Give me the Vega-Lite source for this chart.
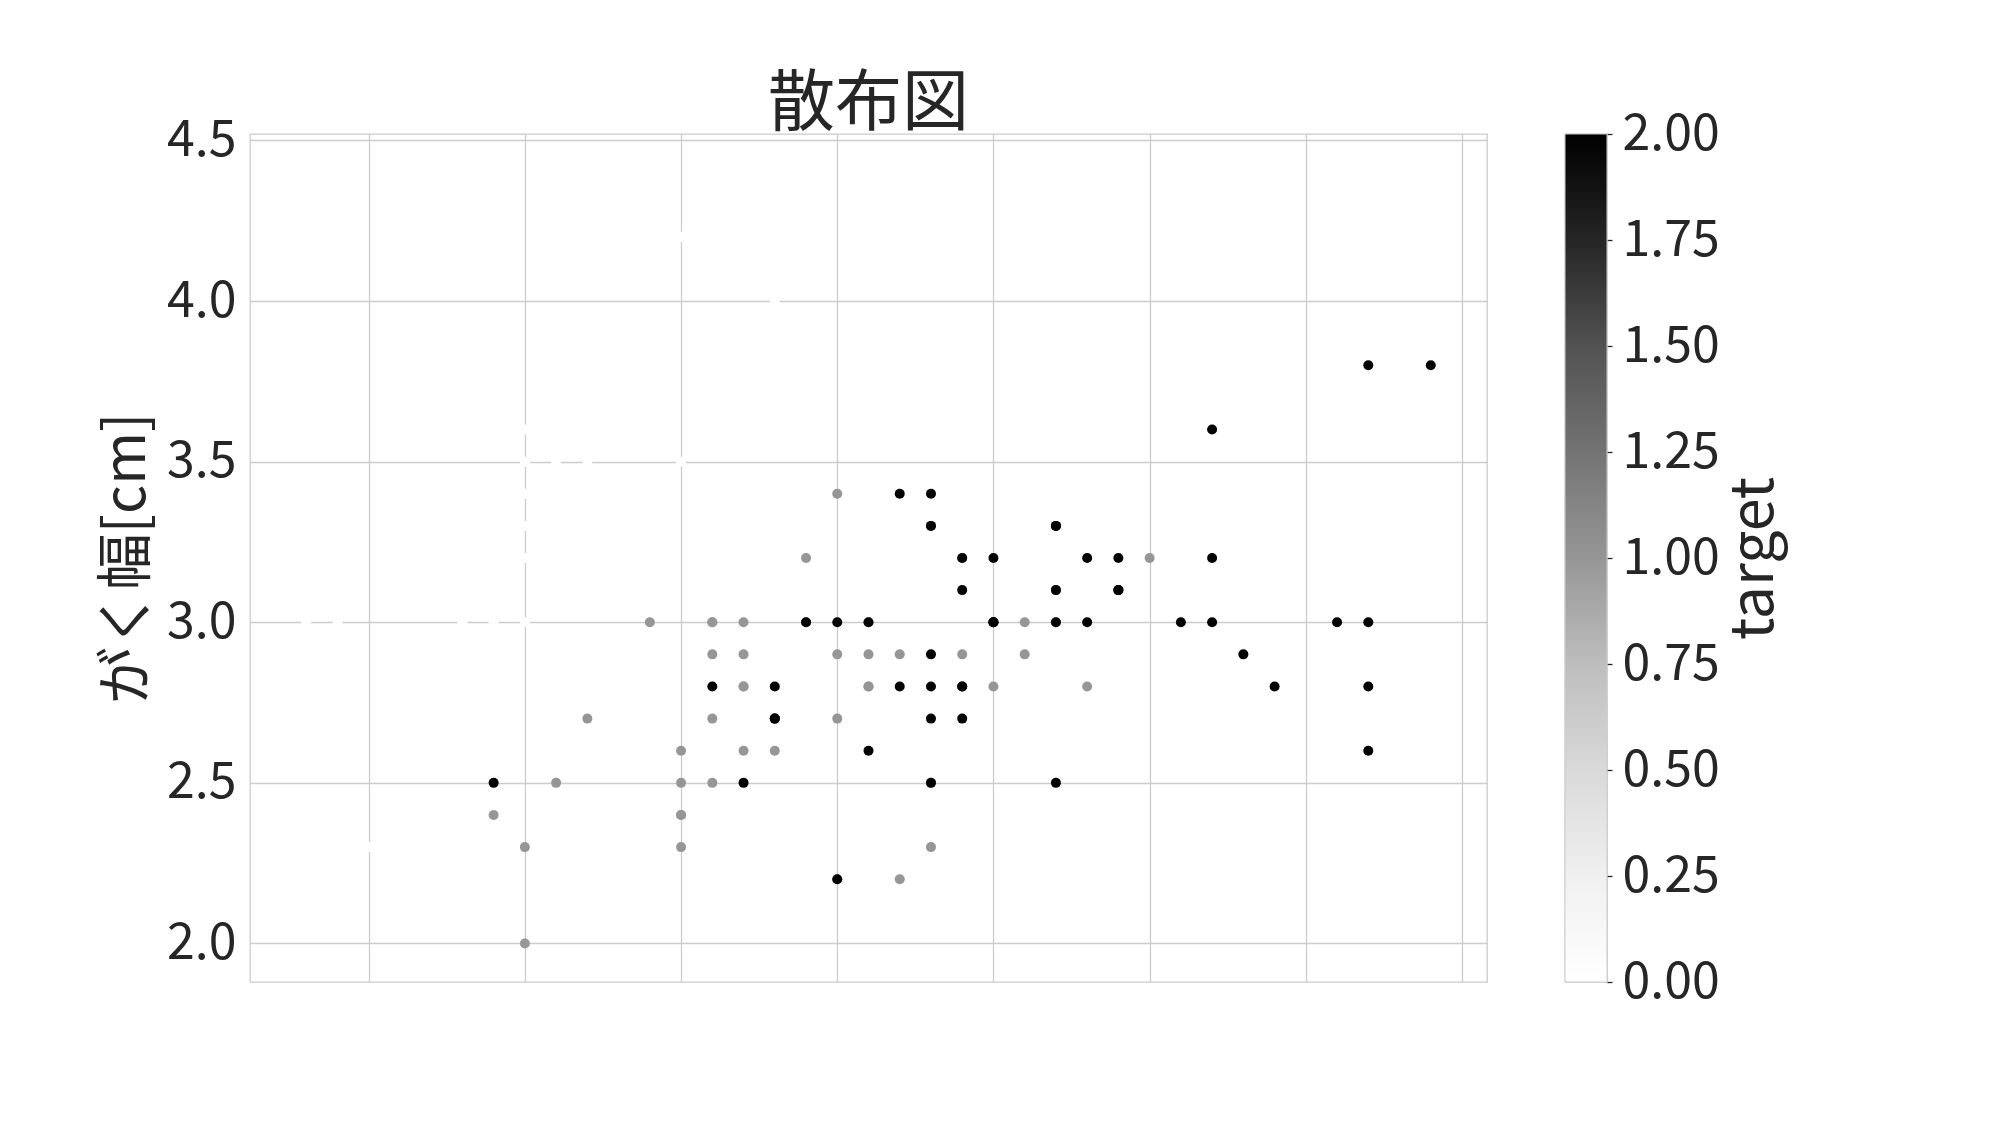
{
  "$schema": "https://vega.github.io/schema/vega-lite/v6.json",
  "autosize": {"type": "pad"},
  "padding": {"left": 97, "top": 70, "right": 20, "bottom": 140},
  "background": "white",
  "spacing": 78,
  "bounds": "flush",
  "config": {
    "font": "Noto Sans CJK JP",
    "view": {"stroke": "#cccccc", "strokeWidth": 1.3},
    "axis": {"gridColor": "#cccccc", "gridWidth": 1.3, "domain": false, "ticks": false, "labelColor": "#262626", "titleColor": "#262626", "labelFont": "Noto Sans CJK JP", "titleFont": "Noto Sans CJK JP"}
  },
  "hconcat": [
    {
      "width": 1237,
      "height": 848,
      "title": {"text": "散布図", "fontSize": 67, "font": "Noto Sans CJK JP", "fontWeight": "normal", "color": "#262626", "anchor": "middle", "offset": -24},
      "data": {"values": [
        {"sepal_length":5.1,"sepal_width":3.5,"target":0},{"sepal_length":4.9,"sepal_width":3.0,"target":0},{"sepal_length":4.7,"sepal_width":3.2,"target":0},{"sepal_length":4.6,"sepal_width":3.1,"target":0},{"sepal_length":5.0,"sepal_width":3.6,"target":0},
        {"sepal_length":5.4,"sepal_width":3.9,"target":0},{"sepal_length":4.6,"sepal_width":3.4,"target":0},{"sepal_length":5.0,"sepal_width":3.4,"target":0},{"sepal_length":4.4,"sepal_width":2.9,"target":0},{"sepal_length":4.9,"sepal_width":3.1,"target":0},
        {"sepal_length":5.4,"sepal_width":3.7,"target":0},{"sepal_length":4.8,"sepal_width":3.4,"target":0},{"sepal_length":4.8,"sepal_width":3.0,"target":0},{"sepal_length":4.3,"sepal_width":3.0,"target":0},{"sepal_length":5.8,"sepal_width":4.0,"target":0},
        {"sepal_length":5.7,"sepal_width":4.4,"target":0},{"sepal_length":5.4,"sepal_width":3.9,"target":0},{"sepal_length":5.1,"sepal_width":3.5,"target":0},{"sepal_length":5.7,"sepal_width":3.8,"target":0},{"sepal_length":5.1,"sepal_width":3.8,"target":0},
        {"sepal_length":5.4,"sepal_width":3.4,"target":0},{"sepal_length":5.1,"sepal_width":3.7,"target":0},{"sepal_length":4.6,"sepal_width":3.6,"target":0},{"sepal_length":5.1,"sepal_width":3.3,"target":0},{"sepal_length":4.8,"sepal_width":3.4,"target":0},
        {"sepal_length":5.0,"sepal_width":3.0,"target":0},{"sepal_length":5.0,"sepal_width":3.4,"target":0},{"sepal_length":5.2,"sepal_width":3.5,"target":0},{"sepal_length":5.2,"sepal_width":3.4,"target":0},{"sepal_length":4.7,"sepal_width":3.2,"target":0},
        {"sepal_length":4.8,"sepal_width":3.1,"target":0},{"sepal_length":5.4,"sepal_width":3.4,"target":0},{"sepal_length":5.2,"sepal_width":4.1,"target":0},{"sepal_length":5.5,"sepal_width":4.2,"target":0},{"sepal_length":4.9,"sepal_width":3.1,"target":0},
        {"sepal_length":5.0,"sepal_width":3.2,"target":0},{"sepal_length":5.5,"sepal_width":3.5,"target":0},{"sepal_length":4.9,"sepal_width":3.6,"target":0},{"sepal_length":4.4,"sepal_width":3.0,"target":0},{"sepal_length":5.1,"sepal_width":3.4,"target":0},
        {"sepal_length":5.0,"sepal_width":3.5,"target":0},{"sepal_length":4.5,"sepal_width":2.3,"target":0},{"sepal_length":4.4,"sepal_width":3.2,"target":0},{"sepal_length":5.0,"sepal_width":3.5,"target":0},{"sepal_length":5.1,"sepal_width":3.8,"target":0},
        {"sepal_length":4.8,"sepal_width":3.0,"target":0},{"sepal_length":5.1,"sepal_width":3.8,"target":0},{"sepal_length":4.6,"sepal_width":3.2,"target":0},{"sepal_length":5.3,"sepal_width":3.7,"target":0},{"sepal_length":5.0,"sepal_width":3.3,"target":0},
        {"sepal_length":7.0,"sepal_width":3.2,"target":1},{"sepal_length":6.4,"sepal_width":3.2,"target":1},{"sepal_length":6.9,"sepal_width":3.1,"target":1},{"sepal_length":5.5,"sepal_width":2.3,"target":1},{"sepal_length":6.5,"sepal_width":2.8,"target":1},
        {"sepal_length":5.7,"sepal_width":2.8,"target":1},{"sepal_length":6.3,"sepal_width":3.3,"target":1},{"sepal_length":4.9,"sepal_width":2.4,"target":1},{"sepal_length":6.6,"sepal_width":2.9,"target":1},{"sepal_length":5.2,"sepal_width":2.7,"target":1},
        {"sepal_length":5.0,"sepal_width":2.0,"target":1},{"sepal_length":5.9,"sepal_width":3.0,"target":1},{"sepal_length":6.0,"sepal_width":2.2,"target":1},{"sepal_length":6.1,"sepal_width":2.9,"target":1},{"sepal_length":5.6,"sepal_width":2.9,"target":1},
        {"sepal_length":6.7,"sepal_width":3.1,"target":1},{"sepal_length":5.6,"sepal_width":3.0,"target":1},{"sepal_length":5.8,"sepal_width":2.7,"target":1},{"sepal_length":6.2,"sepal_width":2.2,"target":1},{"sepal_length":5.6,"sepal_width":2.5,"target":1},
        {"sepal_length":5.9,"sepal_width":3.2,"target":1},{"sepal_length":6.1,"sepal_width":2.8,"target":1},{"sepal_length":6.3,"sepal_width":2.5,"target":1},{"sepal_length":6.1,"sepal_width":2.8,"target":1},{"sepal_length":6.4,"sepal_width":2.9,"target":1},
        {"sepal_length":6.6,"sepal_width":3.0,"target":1},{"sepal_length":6.8,"sepal_width":2.8,"target":1},{"sepal_length":6.7,"sepal_width":3.0,"target":1},{"sepal_length":6.0,"sepal_width":2.9,"target":1},{"sepal_length":5.7,"sepal_width":2.6,"target":1},
        {"sepal_length":5.5,"sepal_width":2.4,"target":1},{"sepal_length":5.5,"sepal_width":2.4,"target":1},{"sepal_length":5.8,"sepal_width":2.7,"target":1},{"sepal_length":6.0,"sepal_width":2.7,"target":1},{"sepal_length":5.4,"sepal_width":3.0,"target":1},
        {"sepal_length":6.0,"sepal_width":3.4,"target":1},{"sepal_length":6.7,"sepal_width":3.1,"target":1},{"sepal_length":6.3,"sepal_width":2.3,"target":1},{"sepal_length":5.6,"sepal_width":3.0,"target":1},{"sepal_length":5.5,"sepal_width":2.5,"target":1},
        {"sepal_length":5.5,"sepal_width":2.6,"target":1},{"sepal_length":6.1,"sepal_width":3.0,"target":1},{"sepal_length":5.8,"sepal_width":2.6,"target":1},{"sepal_length":5.0,"sepal_width":2.3,"target":1},{"sepal_length":5.6,"sepal_width":2.7,"target":1},
        {"sepal_length":5.7,"sepal_width":3.0,"target":1},{"sepal_length":5.7,"sepal_width":2.9,"target":1},{"sepal_length":6.2,"sepal_width":2.9,"target":1},{"sepal_length":5.1,"sepal_width":2.5,"target":1},{"sepal_length":5.7,"sepal_width":2.8,"target":1},
        {"sepal_length":6.3,"sepal_width":3.3,"target":2},{"sepal_length":5.8,"sepal_width":2.7,"target":2},{"sepal_length":7.1,"sepal_width":3.0,"target":2},{"sepal_length":6.3,"sepal_width":2.9,"target":2},{"sepal_length":6.5,"sepal_width":3.0,"target":2},
        {"sepal_length":7.6,"sepal_width":3.0,"target":2},{"sepal_length":4.9,"sepal_width":2.5,"target":2},{"sepal_length":7.3,"sepal_width":2.9,"target":2},{"sepal_length":6.7,"sepal_width":2.5,"target":2},{"sepal_length":7.2,"sepal_width":3.6,"target":2},
        {"sepal_length":6.5,"sepal_width":3.2,"target":2},{"sepal_length":6.4,"sepal_width":2.7,"target":2},{"sepal_length":6.8,"sepal_width":3.0,"target":2},{"sepal_length":5.7,"sepal_width":2.5,"target":2},{"sepal_length":5.8,"sepal_width":2.8,"target":2},
        {"sepal_length":6.4,"sepal_width":3.2,"target":2},{"sepal_length":6.5,"sepal_width":3.0,"target":2},{"sepal_length":7.7,"sepal_width":3.8,"target":2},{"sepal_length":7.7,"sepal_width":2.6,"target":2},{"sepal_length":6.0,"sepal_width":2.2,"target":2},
        {"sepal_length":6.9,"sepal_width":3.2,"target":2},{"sepal_length":5.6,"sepal_width":2.8,"target":2},{"sepal_length":7.7,"sepal_width":2.8,"target":2},{"sepal_length":6.3,"sepal_width":2.7,"target":2},{"sepal_length":6.7,"sepal_width":3.3,"target":2},
        {"sepal_length":7.2,"sepal_width":3.2,"target":2},{"sepal_length":6.2,"sepal_width":2.8,"target":2},{"sepal_length":6.1,"sepal_width":3.0,"target":2},{"sepal_length":6.4,"sepal_width":2.8,"target":2},{"sepal_length":7.2,"sepal_width":3.0,"target":2},
        {"sepal_length":7.4,"sepal_width":2.8,"target":2},{"sepal_length":7.9,"sepal_width":3.8,"target":2},{"sepal_length":6.4,"sepal_width":2.8,"target":2},{"sepal_length":6.3,"sepal_width":2.8,"target":2},{"sepal_length":6.1,"sepal_width":2.6,"target":2},
        {"sepal_length":7.7,"sepal_width":3.0,"target":2},{"sepal_length":6.3,"sepal_width":3.4,"target":2},{"sepal_length":6.4,"sepal_width":3.1,"target":2},{"sepal_length":6.0,"sepal_width":3.0,"target":2},{"sepal_length":6.9,"sepal_width":3.1,"target":2},
        {"sepal_length":6.7,"sepal_width":3.1,"target":2},{"sepal_length":6.9,"sepal_width":3.1,"target":2},{"sepal_length":5.8,"sepal_width":2.7,"target":2},{"sepal_length":6.8,"sepal_width":3.2,"target":2},{"sepal_length":6.7,"sepal_width":3.3,"target":2},
        {"sepal_length":6.7,"sepal_width":3.0,"target":2},{"sepal_length":6.3,"sepal_width":2.5,"target":2},{"sepal_length":6.5,"sepal_width":3.0,"target":2},{"sepal_length":6.2,"sepal_width":3.4,"target":2},{"sepal_length":5.9,"sepal_width":3.0,"target":2}
      ]},
      "mark": {"type": "circle", "size": 100, "opacity": 1},
      "encoding": {
        "x": {"field": "sepal_length", "type": "quantitative",
          "scale": {"domain": [4.12, 8.08], "nice": false, "zero": false},
          "axis": {"title": null, "labels": false, "values": [4.5, 5.0, 5.5, 6.0, 6.5, 7.0, 7.5, 8.0]}},
        "y": {"field": "sepal_width", "type": "quantitative",
          "scale": {"domain": [1.88, 4.52], "nice": false, "zero": false},
          "axis": {"title": "がく幅[cm]", "values": [2.0, 2.5, 3.0, 3.5, 4.0, 4.5], "format": ".1f", "labelFontSize": 50, "labelPadding": 14, "titleFontSize": 57, "titleFontWeight": "normal", "titlePadding": 10}},
        "color": {"field": "target", "type": "quantitative",
          "scale": {"domain": [0, 0.25, 0.5, 0.75, 1, 1.25, 1.5, 1.75, 2], "range": ["#ffffff", "#f0f0f0", "#d9d9d9", "#bdbdbd", "#969696", "#737373", "#525252", "#252525", "#000000"]},
          "legend": null}
      }
    },
    {
      "width": 42,
      "height": 848,
      "data": {"values": [{"lo": 0, "hi": 2}]},
      "mark": {"type": "rect", "stroke": "#cccccc", "strokeWidth": 1,
        "fill": {"gradient": "linear", "x1": 0, "y1": 1, "x2": 0, "y2": 0,
          "stops": [
            {"offset": 0, "color": "#ffffff"}, {"offset": 0.125, "color": "#f0f0f0"}, {"offset": 0.25, "color": "#d9d9d9"},
            {"offset": 0.375, "color": "#bdbdbd"}, {"offset": 0.5, "color": "#969696"}, {"offset": 0.625, "color": "#737373"},
            {"offset": 0.75, "color": "#525252"}, {"offset": 0.875, "color": "#252525"}, {"offset": 1, "color": "#000000"}]}},
      "encoding": {
        "y": {"field": "lo", "type": "quantitative",
          "scale": {"domain": [0, 2], "nice": false, "zero": false},
          "axis": {"orient": "right", "title": "target", "grid": false, "ticks": true, "tickSize": 5, "tickWidth": 1.3, "tickColor": "#262626",
            "values": [0, 0.25, 0.5, 0.75, 1, 1.25, 1.5, 1.75, 2], "format": ".2f", "labelFontSize": 50, "labelPadding": 10,
            "titleFontSize": 59, "titleFontWeight": "normal", "titleAngle": 270, "titleBaseline": "top", "titlePadding": 6}},
        "y2": {"field": "hi"}
      }
    }
  ]
}
